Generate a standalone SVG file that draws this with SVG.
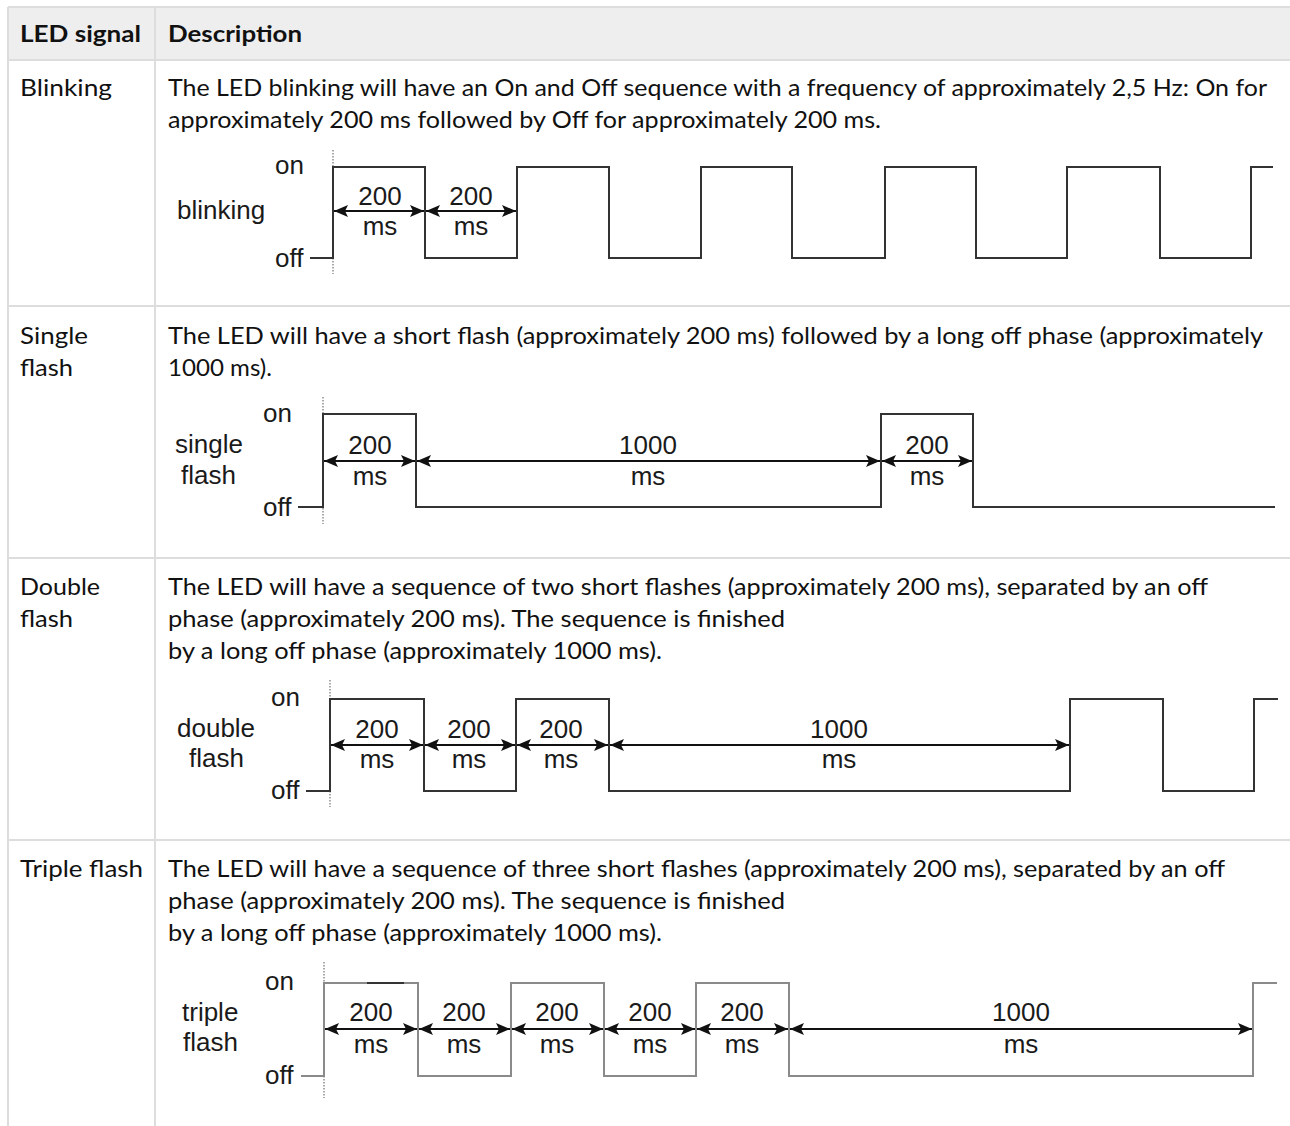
<svg xmlns="http://www.w3.org/2000/svg" width="1290" height="1126" viewBox="0 0 1290 1126">
<defs>
<marker id="ah" viewBox="0 0 14 12" refX="14" refY="6" markerWidth="14" markerHeight="12" markerUnits="userSpaceOnUse" orient="auto-start-reverse">
<path d="M0,0 L14,6 L0,12 L3,6 Z" fill="#111"/>
</marker>
<style>
.grid{stroke:#dddddd;stroke-width:2;fill:none}
.t{font-family:Lato,"Source Sans Pro","Noto Sans",sans-serif;font-size:23px;fill:#111}
.b{font-weight:bold}
.d{font-family:"Liberation Sans",Arial,sans-serif;font-size:26px;fill:#1a1a1a}
.m{text-anchor:middle}
.w{stroke:#333;stroke-width:2;fill:none}
.wg{stroke:#8a8a8a;stroke-width:2;fill:none}
.dot{stroke:#555;stroke-width:1;stroke-dasharray:1.5 1.5;fill:none}
.arr{stroke:#111;stroke-width:2;fill:none;marker-start:url(#ah);marker-end:url(#ah)}
</style>
</defs>
<rect x="0" y="0" width="1290" height="1126" fill="#ffffff"/>
<g id="table">
<rect x="8" y="7" width="1290" height="53" fill="#eeeeee"/>
<line class="grid" x1="8" y1="7" x2="1290" y2="7"/>
<line class="grid" x1="8" y1="60" x2="1290" y2="60"/>
<line class="grid" x1="8" y1="306" x2="1290" y2="306"/>
<line class="grid" x1="8" y1="558" x2="1290" y2="558"/>
<line class="grid" x1="8" y1="840" x2="1290" y2="840"/>
<line class="grid" x1="8" y1="7" x2="8" y2="1126"/>
<line class="grid" x1="155" y1="7" x2="155" y2="1126"/>
</g>
<g id="header">
<text class="t b" x="20" y="42" textLength="121" lengthAdjust="spacingAndGlyphs">LED signal</text>
<text class="t b" x="168" y="42" textLength="134" lengthAdjust="spacingAndGlyphs">Description</text>
</g>
<g id="row-blinking">
<text class="t" x="20" y="96" textLength="92" lengthAdjust="spacingAndGlyphs">Blinking</text>
<text class="t" x="168" y="96" textLength="1099" lengthAdjust="spacingAndGlyphs">The LED blinking will have an On and Off sequence with a frequency of approximately 2,5 Hz: On for</text>
<text class="t" x="168" y="128" textLength="713" lengthAdjust="spacingAndGlyphs">approximately 200 ms followed by Off for approximately 200 ms.</text>
</g>
<g id="row-single">
<text class="t" x="20" y="344" textLength="68" lengthAdjust="spacingAndGlyphs">Single</text>
<text class="t" x="20" y="376" textLength="53" lengthAdjust="spacingAndGlyphs">flash</text>
<text class="t" x="168" y="344" textLength="1095" lengthAdjust="spacingAndGlyphs">The LED will have a short flash (approximately 200 ms) followed by a long off phase (approximately</text>
<text class="t" x="168" y="376" textLength="104" lengthAdjust="spacingAndGlyphs">1000 ms).</text>
</g>
<g id="row-double">
<text class="t" x="20" y="595" textLength="80" lengthAdjust="spacingAndGlyphs">Double</text>
<text class="t" x="20" y="627" textLength="53" lengthAdjust="spacingAndGlyphs">flash</text>
<text class="t" x="168" y="595" textLength="1040" lengthAdjust="spacingAndGlyphs">The LED will have a sequence of two short flashes (approximately 200 ms), separated by an off</text>
<text class="t" x="168" y="627" textLength="617" lengthAdjust="spacingAndGlyphs">phase (approximately 200 ms). The sequence is finished</text>
<text class="t" x="168" y="659" textLength="494" lengthAdjust="spacingAndGlyphs">by a long off phase (approximately 1000 ms).</text>
</g>
<g id="row-triple">
<text class="t" x="20" y="877" textLength="123" lengthAdjust="spacingAndGlyphs">Triple flash</text>
<text class="t" x="168" y="877" textLength="1057" lengthAdjust="spacingAndGlyphs">The LED will have a sequence of three short flashes (approximately 200 ms), separated by an off</text>
<text class="t" x="168" y="909" textLength="617" lengthAdjust="spacingAndGlyphs">phase (approximately 200 ms). The sequence is finished</text>
<text class="t" x="168" y="941" textLength="494" lengthAdjust="spacingAndGlyphs">by a long off phase (approximately 1000 ms).</text>
</g>
<g id="chart-blinking">
<text class="d" x="275" y="174">on</text>
<text class="d" x="177" y="219">blinking</text>
<text class="d" x="275" y="267">off</text>
<line class="dot" x1="333" y1="150" x2="333" y2="274"/>
<path class="w" d="M310,258 H333 V167 H425 V258 H517 V167 H609 V258 H701 V167 H792 V258 H885 V167 H976 V258 H1067 V167 H1160 V258 H1251 V167 H1273"/>
<text class="d m" x="380" y="205">200</text><text class="d m" x="380" y="235">ms</text>
<text class="d m" x="471" y="205">200</text><text class="d m" x="471" y="235">ms</text>
</g>
<g id="chart-single">
<text class="d" x="263" y="422">on</text>
<text class="d" x="175" y="453">single</text>
<text class="d" x="181" y="484">flash</text>
<text class="d" x="263" y="516">off</text>
<line class="dot" x1="323" y1="397" x2="323" y2="524"/>
<path class="w" d="M298,507 H323 V414 H416 V507 H881 V414 H973 V507 H1275"/>
<text class="d m" x="370" y="454">200</text><text class="d m" x="370" y="485">ms</text>
<text class="d m" x="648" y="454">1000</text><text class="d m" x="648" y="485">ms</text>
<text class="d m" x="927" y="454">200</text><text class="d m" x="927" y="485">ms</text>
</g>
<g id="chart-double">
<text class="d" x="271" y="706">on</text>
<text class="d" x="177" y="737">double</text>
<text class="d" x="189" y="767">flash</text>
<text class="d" x="271" y="799">off</text>
<line class="dot" x1="330" y1="680" x2="330" y2="807"/>
<path class="w" d="M306,791 H330 V699 H424 V791 H516 V699 H609 V791 H1070 V699 H1163 V791 H1254 V699 H1278"/>
<text class="d m" x="377" y="738">200</text><text class="d m" x="377" y="768">ms</text>
<text class="d m" x="469" y="738">200</text><text class="d m" x="469" y="768">ms</text>
<text class="d m" x="561" y="738">200</text><text class="d m" x="561" y="768">ms</text>
<text class="d m" x="839" y="738">1000</text><text class="d m" x="839" y="768">ms</text>
</g>
<g id="chart-triple">
<text class="d" x="265" y="990">on</text>
<text class="d" x="182" y="1021">triple</text>
<text class="d" x="183" y="1051">flash</text>
<text class="d" x="265" y="1084">off</text>
<line class="dot" x1="324" y1="962" x2="324" y2="1098"/>
<path class="wg" d="M301,1076 H324 V983 H418 V1076 H511 V983 H604 V1076 H696 V983 H789 V1076 H1253 V983 H1277"/>
<line x1="367" y1="983" x2="404" y2="983" stroke="#333" stroke-width="2"/>
<text class="d m" x="371" y="1021">200</text><text class="d m" x="371" y="1053">ms</text>
<text class="d m" x="464" y="1021">200</text><text class="d m" x="464" y="1053">ms</text>
<text class="d m" x="557" y="1021">200</text><text class="d m" x="557" y="1053">ms</text>
<text class="d m" x="650" y="1021">200</text><text class="d m" x="650" y="1053">ms</text>
<text class="d m" x="742" y="1021">200</text><text class="d m" x="742" y="1053">ms</text>
<text class="d m" x="1021" y="1021">1000</text><text class="d m" x="1021" y="1053">ms</text>
</g>
<g id="connectors">
<line class="arr" x1="334" y1="211" x2="424" y2="211"/>
<line class="arr" x1="426" y1="211" x2="516" y2="211"/>
<line class="arr" x1="324" y1="461" x2="415" y2="461"/>
<line class="arr" x1="417" y1="461" x2="880" y2="461"/>
<line class="arr" x1="882" y1="461" x2="972" y2="461"/>
<line class="arr" x1="331" y1="745" x2="423" y2="745"/>
<line class="arr" x1="425" y1="745" x2="515" y2="745"/>
<line class="arr" x1="517" y1="745" x2="608" y2="745"/>
<line class="arr" x1="610" y1="745" x2="1069" y2="745"/>
<line class="arr" x1="325" y1="1029" x2="417" y2="1029"/>
<line class="arr" x1="419" y1="1029" x2="510" y2="1029"/>
<line class="arr" x1="512" y1="1029" x2="603" y2="1029"/>
<line class="arr" x1="605" y1="1029" x2="695" y2="1029"/>
<line class="arr" x1="697" y1="1029" x2="788" y2="1029"/>
<line class="arr" x1="790" y1="1029" x2="1252" y2="1029"/>
</g>
</svg>
